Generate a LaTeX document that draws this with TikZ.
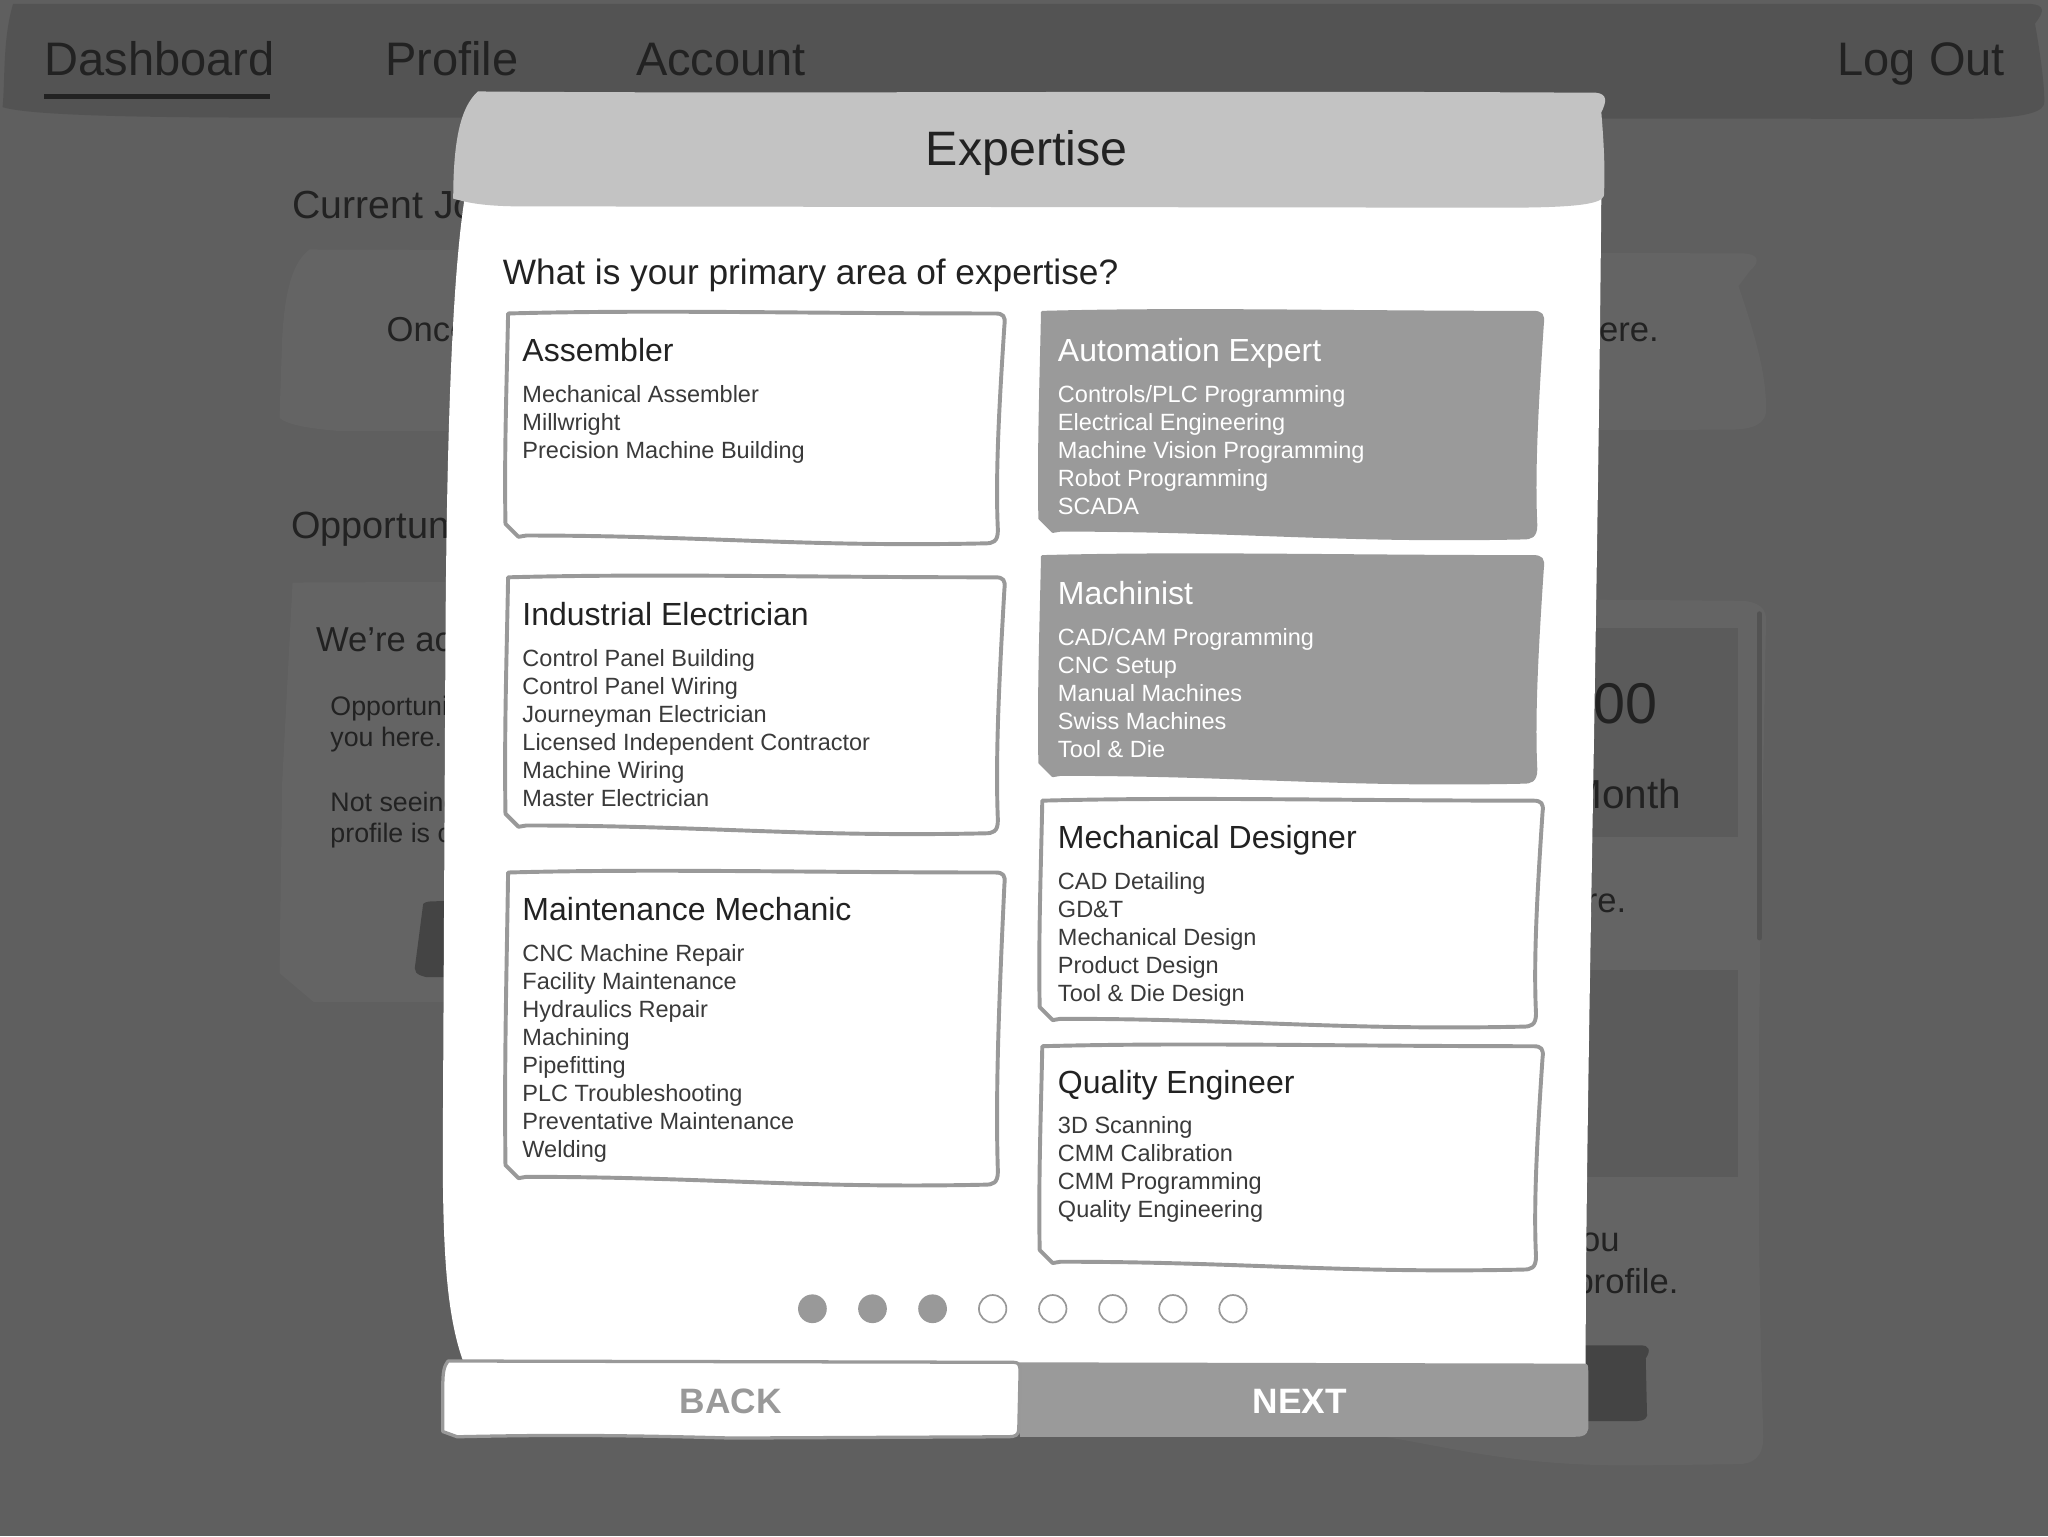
\documentclass[tikz,border=0pt]{standalone}
\usepackage{fontspec}
\setmainfont{Liberation Sans}
\definecolor{bg}{HTML}{5F5F5F}
\definecolor{navbg}{HTML}{535353}
\definecolor{panel}{HTML}{646464}
\definecolor{panelin}{HTML}{5B5B5B}
\definecolor{darkbtn}{HTML}{444444}
\definecolor{ink}{HTML}{222222}
\definecolor{soft}{HTML}{3A3A3A}
\definecolor{hdr}{HTML}{C3C3C3}
\definecolor{sel}{HTML}{9A9A9A}
\definecolor{edge}{HTML}{999999}
\newcommand\sketchcard[5]{%
\begin{scope}[shift={(#1,#2)}]
\pgfmathsetmacro\cw{#3}\pgfmathsetmacro\ch{#4}
\draw[#5] (4,2) .. controls ({0.3*\cw},-1) and ({0.6*\cw},2) .. ({\cw-8},2) .. controls ({\cw-2},2) and ({\cw},4) .. ({\cw-1},11) .. controls ({\cw-5},{0.4*\ch}) and ({\cw-8},{0.7*\ch}) .. ({\cw-6},{\ch-12}) .. controls ({\cw-6},{\ch-3}) and ({\cw-10},{\ch-2}) .. ({\cw-16},{\ch-2}) .. controls ({0.6*\cw},{\ch+1}) and ({0.4*\cw},{\ch-8}) .. (18,{\ch-8}) -- (12,{\ch-7}) -- (2,{\ch-17}) .. controls (1,{0.6*\ch}) and (3,{0.3*\ch}) .. (4,2) -- cycle;
\end{scope}}
\newcommand\cardtext[7]{%
\node[ctitle,text=#6] (#1-t) at (#2,#3) {#4};
\foreach \t [count=\i] in {#5}{\node[citem,text=#7] (#1-\i) at (#2,{#3+31+21.5*(\i-1)}) {\t};}}
\begin{document}
\begin{tikzpicture}[x=1pt,y=-1pt,
  every node/.style={inner sep=0pt,outer sep=0pt},
  navtxt/.style={anchor=base west,text=ink,font=\fontsize{36}{40}\selectfont},
  bgtxt/.style={anchor=base west,text=ink,font=\fontsize{#1}{#1}\selectfont},
  bgtxt/.default=26,
  bgtxte/.style={anchor=base east,text=ink,font=\fontsize{#1}{#1}\selectfont},
  bgtxte/.default=26,
  ctitle/.style={anchor=base west,font=\fontsize{24.5}{28}\selectfont},
  citem/.style={anchor=base west,font=\fontsize{18}{21}\selectfont},
  plaincard/.style={draw=edge,line width=3pt,fill=white,line join=round},
  selcard/.style={draw=sel,line width=2pt,fill=sel,line join=round},
  dotfull/.style={circle,fill=edge,minimum size=22pt},
  dotopen/.style={circle,draw=edge,line width=1.3pt,fill=white,minimum size=21pt},
  btntxt/.style={anchor=base,font=\bfseries\fontsize{27}{30}\selectfont}]
\useasboundingbox (0,0) rectangle (1568,1176);
\fill[bg] (0,0) rectangle (1568,1176);
% ---------- background page ----------
\fill[navbg] (10,3) -- (1555,3) .. controls (1565,4) and (1566,8) .. (1558,18) .. controls (1562,40) and (1566,70) .. (1565,80) .. controls (1562,88) and (1540,91) .. (1500,91) -- (200,90) .. controls (100,90) and (20,88) .. (2,82) .. controls (4,60) and (2,30) .. (10,3) -- cycle;
\node[navtxt] (nav1) at (34,58) {Dashboard};
\fill[ink] (34,72) rectangle (207,76);
\node[navtxt] (nav2) at (295,58) {Profile};
\node[navtxt] (nav3) at (487,58) {Account};
\node[navtxt,anchor=base east] (nav4) at (1535,58) {Log Out};
% current jobs panel
\fill[panel] (237,191) -- (1335,194) .. controls (1350,195) and (1345,203) .. (1340,207) -- (1331,219) .. controls (1345,260) and (1353,290) .. (1352,316) .. controls (1350,328) and (1335,329) .. (1320,329) -- (260,330) .. controls (235,328) and (220,325) .. (214,320) -- (216,260) .. controls (218,220) and (225,200) .. (237,191) -- cycle;
\node[bgtxt=30] (cj) at (224,167) {Current Jo};
\node[bgtxt=26.5] (once) at (296,261.5) {Once};
\node[bgtxte=26.5] (here1) at (1270,261.5) {here.};
% opportunities
\node[bgtxt=29] (opp) at (223,412) {Opportun};
\fill[panel] (224,446) -- (720,444) -- (720,767) -- (240,767) -- (214,745) -- (216,600) -- cycle;
\fill[panel] (700,455) -- (1335,460) .. controls (1352,462) and (1353,470) .. (1352,480) -- (1348,700) .. controls (1345,900) and (1347,1000) .. (1350,1100) .. controls (1350,1116) and (1342,1121) .. (1330,1121) -- (1250,1122) .. controls (1160,1122) and (1120,1110) .. (1060,1100) -- (700,1100) -- cycle;
\fill[panelin] (1100,481) rectangle (1331,641);
\fill[panelin] (1100,743) rectangle (1331,901);
\draw[navbg,line width=4pt,line cap=round] (1347,470) -- (1347,718);
\fill[darkbtn] (1100,1030) -- (1256,1030) .. controls (1263,1030) and (1264,1034) .. (1260,1040) -- (1261,1084) .. controls (1260,1088) and (1255,1088) .. (1250,1088) -- (1100,1088) -- cycle;
\fill[darkbtn] (324,692) .. controls (326,690) and (330,690) .. (335,690) -- (400,690) -- (400,749) -- (326,748) .. controls (318,746) and (317,744) .. (318,738) -- cycle;
\node[bgtxt=26.5] (were) at (242,498.5) {We’re ac};
\node[bgtxt=20.5] (o1) at (253,548) {Opportuni};
\node[bgtxt=20.5] (o2) at (253,571.5) {you here.};
\node[bgtxt=20.5] (o3) at (253,621.5) {Not seeing};
\node[bgtxt=20.5] (o4) at (253,645) {profile is c};
\node[bgtxte=44] (amt) at (1269,554) {00};
\node[bgtxte=31] (month) at (1287,619) {Month};
\node[bgtxte=26.5] (re) at (1245,699) {re.};
\node[bgtxte=26.5] (you) at (1240,958) {you};
\node[bgtxte=26.5] (prof) at (1285,990) {profile.};
% ---------- modal ----------
\fill[white] (356,150) -- (1226,150) .. controls (1223,500) and (1214,850) .. (1214,1046) -- (356,1046) .. controls (342,1010) and (339,960) .. (339,880) -- (341,500) .. controls (342,300) and (348,200) .. (356,150) -- cycle;
\fill[hdr] (366,70) .. controls (600,72) and (900,69) .. (1222,71) .. controls (1231,72) and (1230,78) .. (1226,86) .. controls (1228,110) and (1229,130) .. (1228,150) .. controls (1226,157) and (1200,159) .. (1150,159) -- (400,158) .. controls (375,158) and (360,156) .. (347,152) .. controls (347,110) and (352,82) .. (366,70) -- cycle;
\node[anchor=base,text=ink,font=\fontsize{37}{40}\selectfont] (title) at (786,127) {Expertise};
\node[anchor=base west,text=ink,font=\fontsize{27}{30}\selectfont] (q) at (385,217.7) {What is your primary area of expertise?};
% cards
\sketchcard{385}{238}{385}{180}{plaincard}
\sketchcard{385}{440}{385}{200}{plaincard}
\sketchcard{385}{666}{385}{243}{plaincard}
\sketchcard{794}{237}{388}{177}{selcard}
\sketchcard{794}{424}{388}{177}{selcard}
\sketchcard{794}{611}{388}{177}{plaincard}
\sketchcard{794}{799}{388}{175}{plaincard}
\cardtext{asm}{400}{277}{Assembler}{Mechanical Assembler,Millwright,Precision Machine Building}{ink}{soft}
\cardtext{ie}{400}{479}{Industrial Electrician}{Control Panel Building,Control Panel Wiring,Journeyman Electrician,Licensed Independent Contractor,Machine Wiring,Master Electrician}{ink}{soft}
\cardtext{mm}{400}{705}{Maintenance Mechanic}{CNC Machine Repair,Facility Maintenance,Hydraulics Repair,Machining,Pipefitting,PLC Troubleshooting,Preventative Maintenance,Welding}{ink}{soft}
\cardtext{ae}{810}{277}{Automation Expert}{Controls/PLC Programming,Electrical Engineering,Machine Vision Programming,Robot Programming,SCADA}{white}{white}
\cardtext{mc}{810}{463}{Machinist}{CAD/CAM Programming,CNC Setup,Manual Machines,Swiss Machines,Tool \& Die}{white}{white}
\cardtext{md}{810}{650}{Mechanical Designer}{CAD Detailing,GD\&T,Mechanical Design,Product Design,Tool \& Die Design}{ink}{soft}
\cardtext{qe}{810}{837}{Quality Engineer}{3D Scanning,CMM Calibration,CMM Programming,Quality Engineering}{ink}{soft}
% dots
\foreach \k in {0,1,2}{\node[dotfull] (df\k) at ({622+46*\k},1002) {};}
\foreach \k in {3,...,7}{\node[dotopen] (do\k) at ({622+46*\k},1002) {};}
% buttons
\fill[sel] (778,1043) -- (1213,1044) .. controls (1216,1044) and (1216,1046) .. (1216,1050) -- (1216,1094) .. controls (1215,1099) and (1212,1100) .. (1206,1100) -- (781,1100) -- cycle;
\draw[fill=white,draw=edge,line width=2.5pt,line join=round] (343,1042) -- (776,1043) .. controls (780,1043) and (781,1045) .. (781,1050) -- (780,1094) .. controls (780,1099) and (777,1100) .. (772,1100) -- (560,1101) .. controls (450,1098) and (400,1099) .. (350,1100) -- (339,1096) -- (339,1062) .. controls (339,1050) and (340,1046) .. (343,1042) -- cycle;
\node[btntxt,text=edge] (back) at (559.5,1082) {BACK};
\node[btntxt,text=white] (next) at (995,1082) {NEXT};
\end{tikzpicture}
\end{document}
